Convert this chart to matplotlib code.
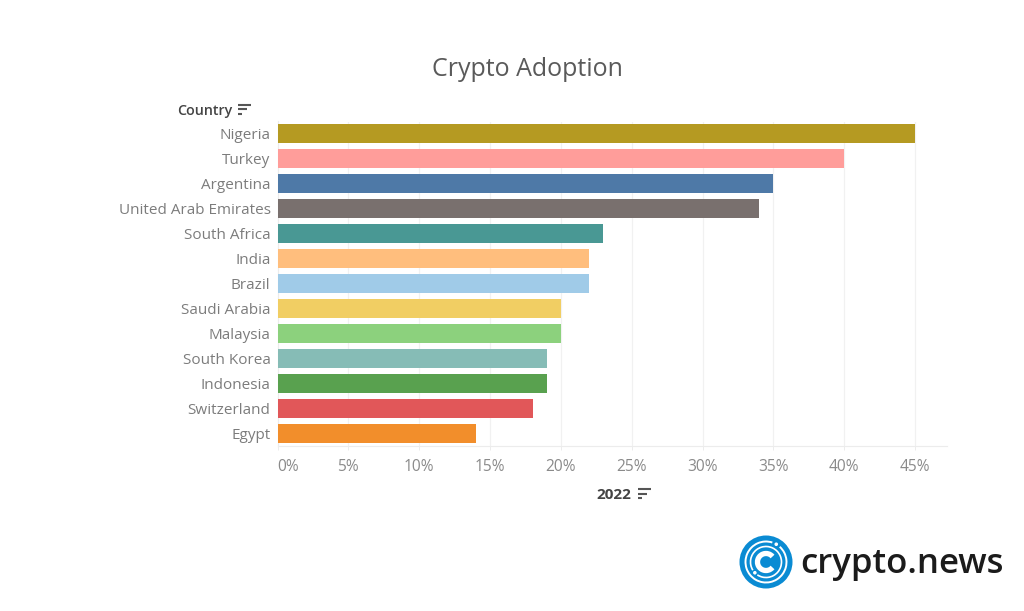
import math
import matplotlib
matplotlib.use("Agg")
import matplotlib.pyplot as plt
from matplotlib.patches import Circle, Arc
from matplotlib.lines import Line2D
from matplotlib.transforms import ScaledTranslation

countries = ["Nigeria", "Turkey", "Argentina", "United Arab Emirates", "South Africa", "India",
             "Brazil", "Saudi Arabia", "Malaysia", "South Korea", "Indonesia", "Switzerland", "Egypt"]
adoption = [45, 40, 35, 34, 23, 22, 22, 20, 20, 19, 19, 18, 14]
colors = ["#B59A22", "#FF9D9A", "#4E79A7", "#79706E", "#499894", "#FFBE7D", "#A0CBE8",
          "#F1CE63", "#8CD17D", "#86BCB6", "#59A14F", "#E15759", "#F28E2B"]
x_ticks = [0, 5, 10, 15, 20, 25, 30, 35, 40, 45]
x_labels = [f"{v}%" for v in x_ticks]
title = "Crypto Adoption"

plt.rcParams['font.family'] = ['Open Sans', 'DejaVu Sans']
W, H = 1024, 611
fig = plt.figure(figsize=(W / 100, H / 100), dpi=100, facecolor="white")

L, R, T, B = 277.5, 947, 121.5, 445.5
ax = fig.add_axes([L / W, 1 - B / H, (R - L) / W, (B - T) / H])
ypos = list(range(len(countries)))
ax.barh(ypos, adoption, height=0.76, color=colors, zorder=3)
ax.set_ylim(len(countries) - 0.5, -0.5)
ax.set_xlim(0, (R - L) / ((915 - L) / 45))
ax.set_yticks(ypos, countries, fontsize=10.95, color="#7c7c7c")
ax.set_xticks(x_ticks, x_labels, fontsize=11.2, color="#8a8a8a")
first = ax.xaxis.get_majorticklabels()[0]
first.set_ha("left")
first.set_transform(first.get_transform() + ScaledTranslation(3 / 100, 0, fig.dpi_scale_trans))
ax.tick_params(axis="y", length=0, pad=5)
ax.tick_params(axis="x", length=3, width=0.7, color="#ececec", pad=6.5)
ax.grid(axis="x", color="#f1f1f1", linewidth=0.9, zorder=0)
ax.set_axisbelow(True)
for s in ("top", "right"):
    ax.spines[s].set_visible(False)
for s in ("left", "bottom"):
    ax.spines[s].set_color("#ececec")
    ax.spines[s].set_linewidth(0.8)

# Overlay in reference pixel coordinates for titles and decoration
ov = fig.add_axes([0, 0, 1, 1], zorder=5)
ov.set_xlim(0, W)
ov.set_ylim(H, 0)
ov.axis("off")
ov.patch.set_alpha(0)

ov.text(527.5, 70, title, ha="center", va="center", fontsize=18, color="#5a5a5a")
ov.text(232, 111, "Country", ha="right", va="center", fontsize=10.3, fontweight="semibold", color="#444444")
ov.text(631, 495, "2022", ha="right", va="center", fontsize=11, fontweight="bold", color="#444444")


def sort_icon(x, y):
    for dy, w in ((0, 13), (4.5, 9), (9, 4)):
        ov.add_line(Line2D([x, x + w], [y + dy, y + dy], color="#555555", lw=1.5, solid_capstyle="butt"))


sort_icon(238, 104.5)
sort_icon(638, 489)

# Logo
cx, cy = 766, 562
ov.add_patch(Circle((cx, cy), 26.5, fc="#0A8BD3", ec="none"))
for r, lw, gaps, dots in ((20.5, 1.4, [(312, 288)], [300]), (15.5, 1.2, [(148, 124)], [136])):
    for start, end in gaps:
        ov.add_patch(Arc((cx, cy), 2 * r, 2 * r, theta1=start, theta2=end + 360 - 360, ec="white", lw=lw))
    for d in dots:
        ov.add_patch(Circle((cx + r * math.cos(math.radians(d)), cy + r * math.sin(math.radians(d))),
                            1.8, fc="white", ec="none"))
ov.add_patch(Arc((cx, cy), 17, 17, theta1=40, theta2=320, ec="white", lw=3.8))
ov.text(800, 564, "crypto.news", ha="left", va="center", fontsize=25, fontweight="semibold", color="#1b1b1b")

fig.savefig("out.png", dpi=100, facecolor="white")
